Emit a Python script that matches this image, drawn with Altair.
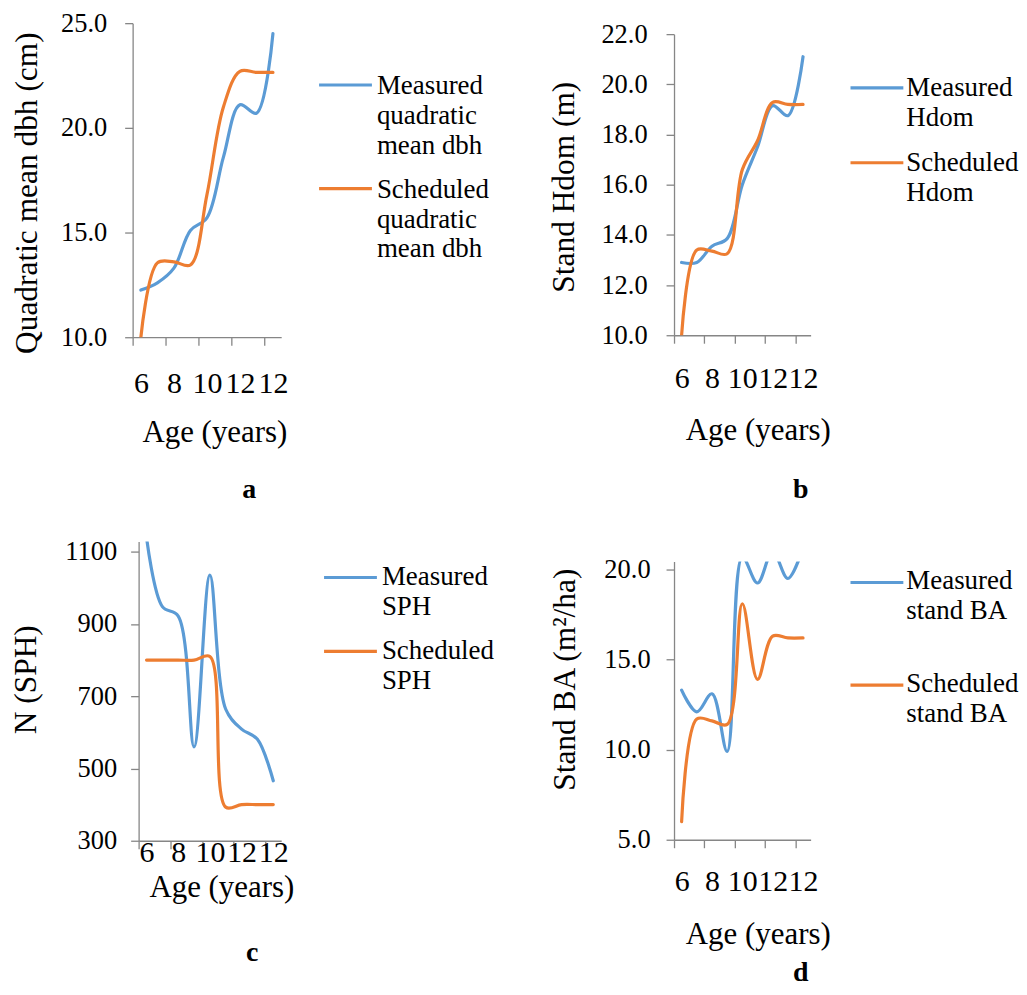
import json
import altair as alt
import pandas as pd

# ---------------- data ----------------
age_tick_labels = ["6", "8", "10", "12", "12"]
n_categories = 9
series_names = ["Measured", "Scheduled"]

dbh_measured = [12.25, 12.6, 13.3, 15.1, 15.7, 18.6, 21.1, 20.7, 24.5]
dbh_scheduled = [10.0, 13.55, 13.6, 13.45, 16.8, 21.0, 22.7, 22.65, 22.65]

hdom_measured = [12.9, 12.9, 13.55, 13.85, 16.0, 17.5, 19.15, 18.75, 21.1]
hdom_scheduled = [10.0, 13.4, 13.35, 13.25, 16.6, 17.75, 19.28, 19.2, 19.2]

sph_measured = [1140, 948, 922, 560, 1035, 664, 609, 581, 466]
sph_scheduled = [800, 800, 800, 800, 810, 393, 400, 400, 400]

ba_measured = [13.3, 12.1, 13.1, 9.9, 20.7, 19.25, 21.0, 19.5, 21.2]
ba_scheduled = [6.0, 11.7, 11.6, 11.4, 18.1, 13.9, 16.3, 16.2, 16.2]

legend_a = [["Measured", "quadratic", "mean dbh"], ["Scheduled", "quadratic", "mean dbh"]]
legend_b = [["Measured", "Hdom"], ["Scheduled", "Hdom"]]
legend_c = [["Measured", "SPH"], ["Scheduled", "SPH"]]
legend_d = [["Measured", "stand BA"], ["Scheduled", "stand BA"]]

BLUE = "#5B9BD5"
ORANGE = "#ED7D31"
FONT = "Liberation Serif"
AXIS_GREY = "#868686"


def make_df(measured, scheduled):
    rows = []
    for name, vals in zip(series_names, [measured, scheduled]):
        for i, v in enumerate(vals):
            rows.append({"x": i + 0.5, "value": v, "series": name})
    return pd.DataFrame(rows)


one = pd.DataFrame({"k": [0]})
label_expr = json.dumps(age_tick_labels) + "[round(datum.value/2)]"


def panel(measured, scheduled, width, height, y_domain, y_values, y_fmt, y_title,
          y_title_x, y_title_y, y_label_pad, x_title_x, x_title_y, x_label_pad,
          legend_lines, leg, letter, letter_pos, y_range=None, x_range=None, y_offset=0):
    df = make_df(measured, scheduled)
    xr0 = x_range[0] if x_range else 0
    xr1 = x_range[1] if x_range else width
    cw = (xr1 - xr0) / n_categories
    xscale = alt.Scale(domain=[0, n_categories], nice=False, zero=False)
    if x_range:
        xscale = alt.Scale(domain=[0, n_categories], nice=False, zero=False, range=x_range)
    yscale = alt.Scale(domain=y_domain, nice=False, zero=False)
    if y_range:
        yscale = alt.Scale(domain=y_domain, nice=False, zero=False, range=y_range)

    lines = alt.Chart(df).mark_line(interpolate="catmull-rom", strokeWidth=3.2, clip=True,
                                    strokeCap="round").encode(
        x=alt.X("x:Q", scale=xscale,
                axis=alt.Axis(values=[0, 2, 4, 6, 8], labelExpr=label_expr,
                              labelOffset=cw / 2, labelFlush=False, labelOverlap=False,
                              labelBaseline="alphabetic", labelPadding=x_label_pad,
                              labelFontSize=30, grid=False,
                              title="Age (years)", titleX=x_title_x, titleY=x_title_y,
                              titleFontSize=31,
                              titleBaseline="alphabetic", titleAlign="center", titleAnchor="start")),
        y=alt.Y("value:Q", scale=yscale,
                axis=alt.Axis(values=y_values, format=y_fmt, labelPadding=y_label_pad,
                              labelOverlap=False, labelFlush=False, offset=y_offset, grid=False,
                              title=y_title, titleAngle=270, titleX=y_title_x, titleY=y_title_y,
                              titleFontSize=31.5,
                              titleBaseline="alphabetic", titleAlign="center", titleAnchor="start")),
        color=alt.Color("series:N", scale=alt.Scale(domain=series_names, range=[BLUE, ORANGE]),
                        legend=None),
        order="x:Q",
    )
    layers = [lines]
    if y_range and y_range[1] > 0:
        # mask the band above the value axis so over-range lines look clipped
        layers.append(alt.Chart(one).mark_rect(color="white").encode(
            x=alt.value(1), x2=alt.value(width + 2), y=alt.value(-3), y2=alt.value(y_range[1])))
    colors = [BLUE, ORANGE]
    for k in range(2):
        layers.append(alt.Chart(one).mark_rule(color=colors[k], strokeWidth=3.2).encode(
            x=alt.value(leg["x1"]), x2=alt.value(leg["x2"]), y=alt.value(leg["ly"][k])))
        layers.append(alt.Chart(one).mark_text(
            align="left", baseline="alphabetic", font=FONT, fontSize=27, lineHeight=30,
            color="#000000", text=legend_lines[k]).encode(
            x=alt.value(leg["tx"]), y=alt.value(leg["ty"][k])))
    layers.append(alt.Chart(one).mark_text(
        align="center", baseline="alphabetic", font=FONT, fontSize=28, fontWeight="bold",
        color="#000000", text=letter).encode(
        x=alt.value(letter_pos[0]), y=alt.value(letter_pos[1])))
    return alt.layer(*layers).properties(width=width, height=height)


pa = panel(dbh_measured, dbh_scheduled, 149, 315, [10, 25], [10, 15, 20, 25], ".1f",
           "Quadratic mean dbh (cm)", -96, 170, 18, 82, 105, 47,
           legend_a, {"x1": 187, "x2": 240, "ly": [62, 166], "tx": 245, "ty": [71, 175]},
           "a", (117, 476))

pb = panel(hdom_measured, hdom_scheduled, 137, 313, [10, 22], [10, 12, 14, 16, 18, 20, 22], ".1f",
           "Stand Hdom (m)", -101, 164, 19, 84, 105, 44,
           legend_b, {"x1": 177, "x2": 230, "ly": [65, 140], "tx": 233, "ty": [73, 148]},
           "b", (127, 476), y_range=[313, 11])

pc = panel(sph_measured, sph_scheduled, 149, 300, [300, 1128], [300, 500, 700, 900, 1100], "d",
           "N (SPH)", -103, 138, 14, 89, 56, 13,
           legend_c, {"x1": 192, "x2": 245, "ly": [36, 110], "tx": 250, "ty": [44, 118]},
           "c", (120, 421), x_range=[6, 149], y_offset=-6)

pd_ = panel(ba_measured, ba_scheduled, 137, 299, [5, 20.44], [5, 10, 15, 20], ".1f",
            "Stand BA (m²/ha)", -100, 138, 16, 84, 104, 43,
            legend_d, {"x1": 177, "x2": 230, "ly": [41, 144], "tx": 233, "ty": [48, 151]},
            "d", (127, 441), y_range=[299, 20])

chart = alt.concat(pa, pb, pc, pd_, columns=2).properties(
    spacing={"row": 205, "column": 394}, bounds="flush",
    padding={"left": 3, "top": 0.75, "right": 0, "bottom": 0},
    background="white",
).configure_view(strokeWidth=0).configure_axis(
    grid=False, domainColor=AXIS_GREY, tickColor=AXIS_GREY, domainWidth=1.3, tickWidth=1.3,
    tickSize=8, labelFont=FONT, titleFont=FONT, labelColor="#000000", titleColor="#000000",
    titleFontWeight="normal", labelFontSize=26.5, titleFontSize=31,
)

chart.save("out.html", embed_options={"renderer": "svg", "actions": False})
